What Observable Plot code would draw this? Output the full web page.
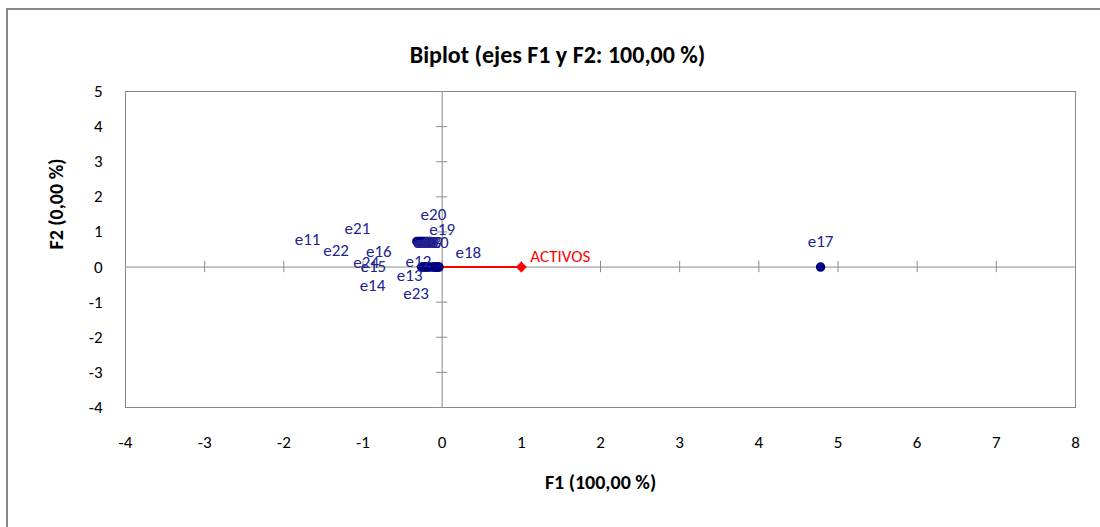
<!DOCTYPE html>
<html>
<head>
<meta charset="utf-8">
<script src="https://cdn.jsdelivr.net/npm/d3@7"></script>
<script src="https://cdn.jsdelivr.net/npm/@observablehq/plot@0.6"></script>
<style>
  html, body { margin: 0; padding: 0; background: #fff; overflow: hidden; }
  #outer { position: absolute; left: 6px; top: 8px; width: 1106px; height: 540px; border: 2px solid #8a8a8a; box-sizing: border-box; }
  #chart { position: absolute; left: 0; top: 0; }
</style>
</head>
<body>
<div id="outer"></div>
<div id="chart"></div>
<script>
// Tick values
const xTicks = [-4, -3, -2, -1, 0, 1, 2, 3, 4, 5, 6, 7, 8];
const yTicks = [-4, -3, -2, -1, 0, 1, 2, 3, 4, 5];

// Observations (points)
const obsNames = ["e1","e2","e3","e4","e5","e6","e7","e8","e9","e10",
                  "e11","e12","e13","e14","e15","e16","e18","e19","e20","e21","e22","e23","e24","e17"];
const obsF1 = [-0.32,-0.30,-0.28,-0.26,-0.24,-0.22,-0.20,-0.18,-0.16,-0.14,
               -0.26,-0.24,-0.22,-0.20,-0.18,-0.16,-0.04,-0.12,-0.10,-0.08,-0.07,-0.06,-0.05,4.78];
const obsF2 = [0.73,0.73,0.73,0.73,0.73,0.73,0.73,0.73,0.73,0.73,
               0,0,0,0,0,0,0,0,0,0,0,0,0,0];

// Label positions (as placed in the reference)
const labNames = ["e1","e2","e3","e4","e5","e6","e7","e8","e9","e10",
                  "e11","e12","e13","e14","e15","e16","e18","e19","e20","e21","e22","e23","e24","e17"];
const labF1 = [-0.26,-0.24,-0.22,-0.20,-0.18,-0.16,-0.14,-0.12,-0.10,-0.08,
               -1.70,-0.30,-0.41,-0.88,-0.87,-0.80,0.33,0.00,-0.11,-1.07,-1.34,-0.33,-0.96,4.78];
const labF2 = [0.70,0.70,0.70,0.70,0.70,0.70,0.70,0.70,0.70,0.70,
               0.79,0.16,-0.24,-0.52,0.02,0.44,0.42,1.07,1.50,1.10,0.47,-0.75,0.13,0.73];

// Variable vector
const varNames = ["ACTIVOS"];
const varF1 = [1.0];
const varF2 = [0.0];

const points = obsNames.map((n, i) => ({name: n, x: obsF1[i], y: obsF2[i]}));
const labels = labNames.map((n, i) => ({name: n, x: labF1[i], y: labF2[i]}));
const vars = varNames.map((n, i) => ({name: n, x: varF1[i], y: varF2[i]}));

const font = "Carlito, Calibri, Lato, 'Open Sans', sans-serif";
const navy = "#000080";
const labelColor = "#23238f";
const grey = "#8c8c8c";

const chart = Plot.plot({
  width: 1100,
  height: 527,
  marginLeft: 125,
  marginRight: 25,
  marginTop: 91,
  marginBottom: 120,
  style: {fontFamily: font, fontSize: "17px", color: "#000", background: "transparent"},
  x: {domain: [-4, 8]},
  y: {domain: [-4, 5]},
  marks: [
    Plot.frame({stroke: "#868686"}),
    Plot.axisX({ticks: xTicks, tickSize: 0, tickPadding: 28, tickFormat: d => String(d), label: null, fontSize: 17}),
    Plot.axisY({ticks: yTicks, tickSize: 0, tickPadding: 23, tickFormat: d => String(d), label: null, fontSize: 17}),
    Plot.ruleY([0], {stroke: grey}),
    Plot.ruleX([0], {stroke: grey}),
    Plot.ruleX(xTicks, {x: d => d, y1: -0.16, y2: 0.16, stroke: grey}),
    Plot.ruleY(yTicks, {y: d => d, x1: -0.07, x2: 0.07, stroke: grey}),
    Plot.link(vars, {x1: 0, y1: 0, x2: "x", y2: "y", stroke: "#ff0000", strokeWidth: 2}),
    Plot.dot(vars, {x: "x", y: "y", symbol: "diamond2", r: 5, fill: "#ff0000"}),
    Plot.text(vars, {x: "x", y: "y", text: "name", fill: "#ff0000", textAnchor: "start", dx: 9, dy: -11, fontSize: 17}),
    Plot.dot(points, {x: "x", y: "y", r: 4, fill: navy, stroke: navy}),
    Plot.text(labels, {x: "x", y: "y", text: "name", fill: labelColor, fontSize: 17}),
    Plot.text(["Biplot (ejes F1 y F2: 100,00 %)"], {frameAnchor: "top", dy: -46, dx: -43, fontWeight: "bold", fontSize: 24, fill: "#000"}),
    Plot.text(["F1 (100,00 %)"], {frameAnchor: "bottom", dy: 81, fontWeight: "bold", fontSize: 20, fill: "#000"}),
    Plot.text(["F2 (0,00 %)"], {frameAnchor: "left", dx: -69, rotate: -90, fontWeight: "bold", fontSize: 20, fill: "#000"})
  ]
});
document.getElementById("chart").appendChild(chart);
</script>
</body>
</html>
